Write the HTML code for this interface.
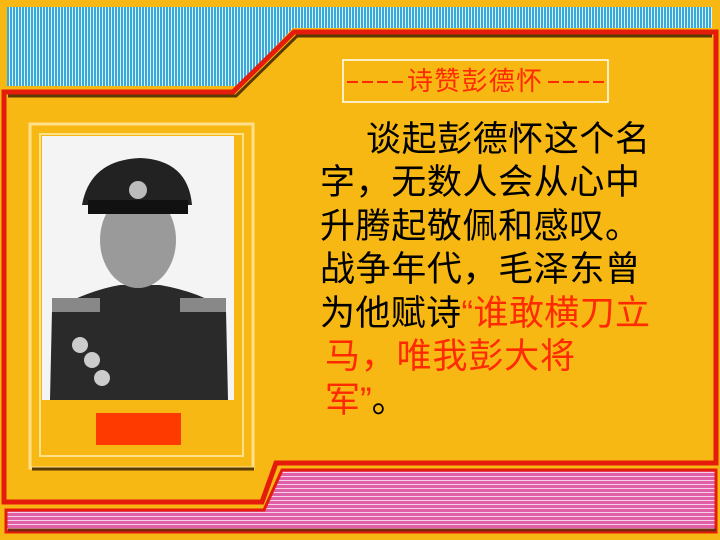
<!DOCTYPE html>
<html><head><meta charset="utf-8"><style>
html,body{margin:0;padding:0;background:#f7b814;}
svg{display:block}
text{font-family:"Liberation Sans","Noto Sans CJK SC",sans-serif;}
</style></head><body>
<svg width="720" height="540" viewBox="0 0 720 540">
<defs>
<pattern id="vstripe" width="3" height="4" patternUnits="userSpaceOnUse"><rect width="3" height="4" fill="#3aa8d8"/><rect width="1" height="4" fill="#d8f2fb"/></pattern>
<pattern id="hstripe" width="4" height="4" patternUnits="userSpaceOnUse"><rect width="4" height="4" fill="#e060a8"/><rect width="4" height="1" fill="#f8d0e8"/></pattern>
</defs>
<rect width="720" height="540" fill="#f7b814"/>
<polygon points="7,7 712,7 712,28 293,28 238,86 7,86" fill="url(#vstripe)"/>
<polygon points="4,92 233,92 294,32 716,32 716,463 276,463 262,502 4,502" fill="#f7b814" stroke="#e51c0c" stroke-width="5"/>
<polyline points="8,96 236,96 297,36 712,36" fill="none" stroke="#5a3a00" stroke-width="3"/>
<polygon points="6,510 264,510 282,470 716,470 716,532 6,532" fill="url(#hstripe)" stroke="#e51c0c" stroke-width="3"/>
<line x1="8" y1="530" x2="716" y2="530" stroke="#7a2a10" stroke-width="3"/>
<rect x="30" y="124" width="223" height="344" fill="#f7b814" stroke="#ffe08a" stroke-width="3"/>
<rect x="40" y="134" width="203" height="322" fill="none" stroke="#ffe08a" stroke-width="2"/>
<line x1="32" y1="469" x2="254" y2="469" stroke="#5a3a00" stroke-width="3"/>
<g>
<rect x="42" y="136" width="192" height="264" fill="#f4f4f4"/>
<path d="M50,400 L52,310 Q90,290 120,285 L160,285 Q200,292 226,310 L228,400 Z" fill="#2a2a2a"/>
<ellipse cx="138" cy="240" rx="38" ry="48" fill="#9a9a9a"/>
<path d="M82,205 Q90,160 140,158 Q188,160 192,205 Z" fill="#222"/>
<rect x="88" y="200" width="100" height="14" fill="#111"/>
<circle cx="138" cy="190" r="9" fill="#bbb"/>
<rect x="52" y="298" width="48" height="14" fill="#888"/>
<rect x="180" y="298" width="46" height="14" fill="#888"/>
<circle cx="80" cy="345" r="8" fill="#ccc"/><circle cx="92" cy="360" r="8" fill="#ccc"/><circle cx="102" cy="378" r="8" fill="#ccc"/>
</g>
<rect x="96" y="413" width="85" height="32" fill="#ff3a00"/>
<rect x="343" y="60" width="265" height="42" fill="none" stroke="#fff" stroke-width="1.5"/>
<g fill="#ff2a00">
<text x="345" y="89" font-size="26" textLength="60" lengthAdjust="spacingAndGlyphs">----</text>
<text x="407" y="90" font-size="26" textLength="135" lengthAdjust="spacing">诗赞彭德怀</text>
<text x="546" y="89" font-size="26" textLength="60" lengthAdjust="spacingAndGlyphs">----</text>
</g>
<g font-size="35" fill="#000">
<text x="366" y="151" textLength="284" lengthAdjust="spacing">谈起彭德怀这个名</text>
<text x="320" y="194" textLength="320" lengthAdjust="spacing">字，无数人会从心中</text>
<text x="320" y="238" textLength="320" lengthAdjust="spacing">升腾起敬佩和感叹。</text>
<text x="320" y="281" textLength="320" lengthAdjust="spacing">战争年代，毛泽东曾</text>
<text x="320" y="325" textLength="330" lengthAdjust="spacing">为他赋诗<tspan fill="#ff2a00">“谁敢横刀立</tspan></text>
<text x="325" y="368" fill="#ff2a00" textLength="250" lengthAdjust="spacing">马，唯我彭大将</text>
<text x="325" y="412"><tspan fill="#ff2a00">军”</tspan>。</text>
</g>
</svg>
</body></html>
